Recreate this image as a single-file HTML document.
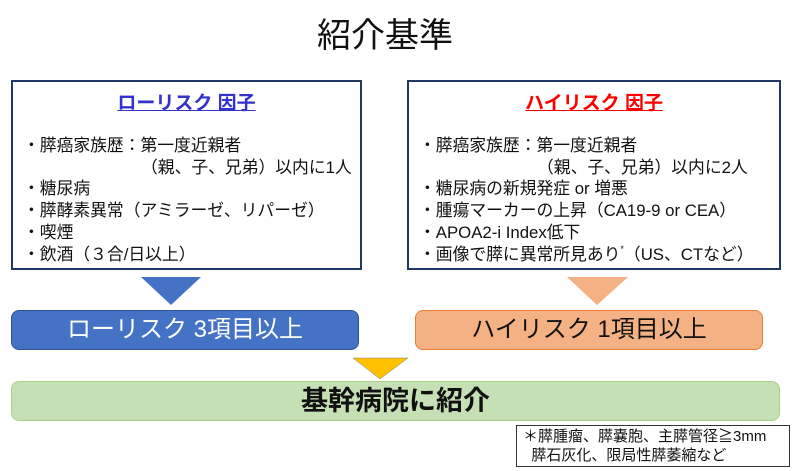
<!DOCTYPE html>
<html><head><meta charset="utf-8"><style>
body{margin:0;width:800px;height:471px;background:#fff;position:relative;overflow:hidden;font-family:"Liberation Sans","Noto Sans CJK JP",sans-serif;color:#111}
div{position:absolute;box-sizing:border-box}
.box{border:2px solid #203864;background:#fff}
.hd{left:0;right:0;text-align:center;font-weight:bold;font-size:19px;text-decoration:underline;top:6px}
.it{font-size:16.8px;line-height:21.7px;white-space:nowrap}
.bar{border-radius:8px;text-align:center;font-size:24px;line-height:38px}
</style></head><body>
<div style="left:0;width:770px;top:8px;text-align:center;font-size:34px">紹介基準</div>

<div class="box" style="left:11px;top:80px;width:351px;height:190px">
 <div class="hd" style="color:#3333cc">ローリスク 因子</div>
 <div class="it" style="left:10px;top:53px">・膵癌家族歴：第一度近親者<br><span style="padding-left:118px">（親、子、兄弟）以内に1人</span><br>・糖尿病<br>・膵酵素異常（アミラーゼ、リパーゼ）<br>・喫煙<br>・飲酒（３合/日以上）</div>
</div>
<div class="box" style="left:407px;top:80px;width:374px;height:190px">
 <div class="hd" style="color:#ff0000">ハイリスク 因子</div>
 <div class="it" style="left:10px;top:53px">・膵癌家族歴：第一度近親者<br><span style="padding-left:118px">（親、子、兄弟）以内に2人</span><br>・糖尿病の新規発症 or 増悪<br>・腫瘍マーカーの上昇（CA19-9 or CEA）<br>・APOA2-i Index低下<br>・画像で膵に異常所見あり<span style="font-size:9px;vertical-align:top;line-height:10px">*</span>（US、CTなど）</div>
</div>

<svg style="position:absolute;left:0;top:0" width="800" height="471">
<polygon points="141,277 201,277 171,305" fill="#4472c4"/>
<polygon points="567,277 628,277 597,305" fill="#f4b183"/>
<polygon points="353,358 408,358 380,379" fill="#ffc000" stroke="#7f7f7f" stroke-width="0.5"/>
</svg>

<div class="bar" style="left:11px;top:310px;width:348px;height:40px;background:#4472c4;border:1px solid #2f528f;color:#fff">ローリスク 3項目以上</div>
<div class="bar" style="left:415px;top:310px;width:348px;height:40px;background:#f4b183;border:1px solid #ed7d31;color:#111">ハイリスク 1項目以上</div>
<div class="bar" style="left:11px;top:381px;width:769px;height:40px;background:#c5e0b4;border:1px solid #a9d18e;font-weight:bold;font-size:27px">基幹病院に紹介</div>

<div style="left:516px;top:425px;width:274px;height:42px;border:1px solid #333;font-size:15px;line-height:19px;padding:1px 0 0 6px;white-space:nowrap">＊膵腫瘤、膵嚢胞、主膵管径≧3mm<br>&nbsp;&nbsp;膵石灰化、限局性膵萎縮など</div>
</body></html>
